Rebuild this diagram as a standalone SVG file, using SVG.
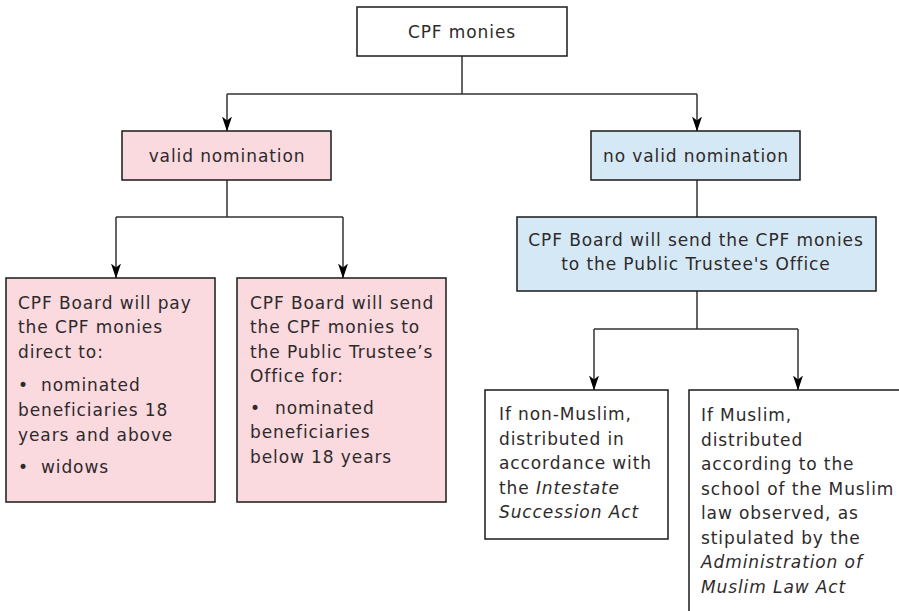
<svg xmlns="http://www.w3.org/2000/svg" width="899" height="611" viewBox="0 0 899 611">
<defs>
<marker id="arr" markerUnits="userSpaceOnUse" markerWidth="15" markerHeight="10" refX="14.5" refY="5" orient="auto" viewBox="0 0 15 10">
<path d="M0,0 L15,5 L0,10 L4,5 z" fill="#000"/>
</marker>
<style>
.box{stroke:#1a1a1a;stroke-width:1.5}
.w{fill:#fff}
.p{fill:#fad9df}
.b{fill:#d5e8f5}
text{font-family:"DejaVu Sans","Liberation Sans",sans-serif;font-size:17px;letter-spacing:0.9px;fill:#2e2a2b}
.c{text-anchor:middle}
.i{font-style:italic}
.con{fill:none;stroke:#333;stroke-width:1.5}
</style>
</defs>
<rect width="899" height="611" fill="#fff"/>
<g id="connectors">
<path class="con" d="M462,56 V94 M227,94 H697"/>
<path class="con" d="M227,94 V131" marker-end="url(#arr)"/>
<path class="con" d="M697,94 V131" marker-end="url(#arr)"/>
<path class="con" d="M227,180 V217 M116,217 H343"/>
<path class="con" d="M116,217 V278" marker-end="url(#arr)"/>
<path class="con" d="M343,217 V278" marker-end="url(#arr)"/>
<path class="con" d="M697,180 V217"/>
<path class="con" d="M697,291 V329 M594,329 H798"/>
<path class="con" d="M594,329 V390" marker-end="url(#arr)"/>
<path class="con" d="M798,329 V390" marker-end="url(#arr)"/>
</g>
<g id="cpf-monies">
<rect class="box w" x="357" y="7" width="210" height="49"/>
<text class="c" x="462" y="38">CPF monies</text>
</g>
<g id="valid-nomination">
<rect class="box p" x="122" y="131" width="209" height="49"/>
<text class="c" x="227" y="162">valid nomination</text>
</g>
<g id="no-valid-nomination">
<rect class="box b" x="591" y="131" width="209" height="49"/>
<text class="c" x="696" y="162">no valid nomination</text>
</g>
<g id="pay-direct">
<rect class="box p" x="6" y="278" width="209" height="224"/>
<text x="18" y="309">CPF Board will pay</text>
<text x="18" y="333">the CPF monies</text>
<text x="18" y="358">direct to:</text>
<text x="18" y="391">•</text>
<text x="41" y="391">nominated</text>
<text x="18" y="416">beneficiaries 18</text>
<text x="18" y="441">years and above</text>
<text x="18" y="473">•</text>
<text x="41" y="473">widows</text>
</g>
<g id="send-pto-minors">
<rect class="box p" x="237" y="278" width="209" height="224"/>
<text x="250" y="309">CPF Board will send</text>
<text x="250" y="333">the CPF monies to</text>
<text x="250" y="358">the Public Trustee’s</text>
<text x="250" y="382">Office for:</text>
<text x="250" y="414">•</text>
<text x="275" y="414">nominated</text>
<text x="250" y="438">beneficiaries</text>
<text x="250" y="463">below 18 years</text>
</g>
<g id="send-pto">
<rect class="box b" x="517" y="217" width="359" height="74"/>
<text class="c" x="696" y="246">CPF Board will send the CPF monies</text>
<text class="c" x="696" y="270">to the Public Trustee's Office</text>
</g>
<g id="non-muslim">
<rect class="box w" x="485" y="390" width="183" height="149"/>
<text x="499" y="420">If non-Muslim,</text>
<text x="499" y="445">distributed in</text>
<text x="499" y="469">accordance with</text>
<text x="499" y="494">the <tspan class="i">Intestate</tspan></text>
<text x="499" y="518" class="i">Succession Act</text>
</g>
<g id="muslim">
<rect class="box w" x="689" y="390" width="220" height="230"/>
<text x="701" y="421">If Muslim,</text>
<text x="701" y="446">distributed</text>
<text x="701" y="470">according to the</text>
<text x="701" y="495">school of the Muslim</text>
<text x="701" y="519">law observed, as</text>
<text x="701" y="544">stipulated by the</text>
<text x="701" y="568" class="i">Administration of</text>
<text x="701" y="593" class="i">Muslim Law Act</text>
</g>
</svg>
